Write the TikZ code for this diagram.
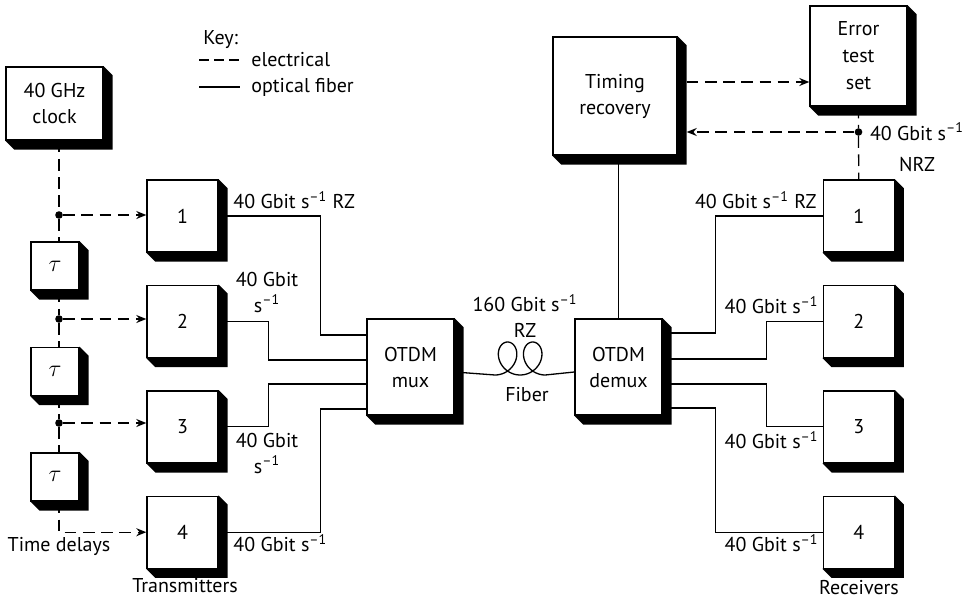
\documentclass[tikz,border=0pt]{standalone}
\usepackage{fontspec}
\setmainfont{PT Sans}
\usetikzlibrary{positioning,arrows.meta,calc,backgrounds}

\newcommand{\pers}{s\textsuperscript{--1}}

\begin{document}
\begin{tikzpicture}[
  x=0.5pt, y=-0.5pt,
  font=\fontsize{10}{13}\selectfont,
  blk/.style={draw, fill=white, line width=0.7pt, inner sep=0pt, align=center},
  txbox/.style={blk, minimum width=35.5pt, minimum height=36pt},
  taubox/.style={blk, minimum width=24pt, minimum height=24pt, font=\fontsize{13}{13}\selectfont},
  bigbox/.style={blk, minimum width=43.5pt, minimum height=48pt},
  elec/.style={line width=0.65pt, dash pattern=on 5.8pt off 3.3pt},
  fib/.style={line width=0.65pt},
  tip/.style={-{Stealth[length=5pt,width=4pt]}},
  dot/.style={circle, fill, inner sep=0pt, minimum size=3.8pt},
  lbl/.style={inner sep=0pt, align=center}
]
\useasboundingbox (0,0) rectangle (968,599);

% sources and delays
\node[blk, minimum width=48.5pt, minimum height=36.5pt] (clock) at (54.5,103.5) {40 GHz\\clock};
\node[taubox] (tau1) at (55,266) {$\tau$};
\node[taubox, below=28pt of tau1] (tau2) {$\tau$};
\node[taubox, below=28pt of tau2] (tau3) {$\tau$};

\node[txbox] (tx1) at (182.5,216) {1};
\node[txbox, below=16pt of tx1] (tx2) {2};
\node[txbox, below=16pt of tx2] (tx3) {3};
\node[txbox, below=16pt of tx3] (tx4) {4};

\node[bigbox] (mux) at (410.5,367) {OTDM\\mux};
\node[bigbox] (demux) at (618.5,367) {OTDM\\demux};
\node[blk, minimum width=62pt, minimum height=59pt] (timing) at (615,96) {Timing\\recovery};
\node[blk, minimum width=48.5pt, minimum height=50pt] (error) at (858.5,56) {Error\\[0.5pt]test\\[0.5pt]set};

\node[txbox] (rx1) at (858.75,216) {1};
\node[txbox, below=16pt of rx1] (rx2) {2};
\node[txbox, below=16pt of rx2] (rx3) {3};
\node[txbox, below=16pt of rx3] (rx4) {4};

% 3-d edges of the boxes
\begin{scope}[on background layer]
\foreach \b in {clock,tau1,tau2,tau3,tx1,tx2,tx3,tx4,mux,demux,timing,error,rx1,rx2,rx3,rx4}
  \fill (\b.north east) -- ++(4.5pt,-4.5pt) |- ($(\b.south west)+(4.5pt,-4.5pt)$) -- (\b.south west) -- cycle;
\end{scope}

% clock distribution
\node[dot] (d1) at (59,215) {};
\node[dot] (d2) at (59,319) {};
\node[dot] (d3) at (59,423) {};
\draw[elec] (clock.south -| d1) -- (d1) -- (tau1.north -| d1);
\draw[elec] (tau1.south -| d1) -- (d2) -- (tau2.north -| d2);
\draw[elec] (tau2.south -| d2) -- (d3) -- (tau3.north -| d3);
\draw[elec,tip] (tau3.south -| d3) |- (tx4.west);
\foreach \i in {1,2,3}
  \draw[elec,tip] (d\i) -- (d\i -| tx\i.west);

% transmitters to mux
\draw[fib] (tx1.east) -- ++(102,0) |- ($(mux.west)+(0,16pt)$);
\draw[fib] (tx2.east) -- ++(50,0) |- ($(mux.west)+(0,3.5pt)$);
\draw[fib] (tx3.east) -- ++(50,0) |- ($(mux.west)+(0,-8.5pt)$);
\draw[fib] (tx4.east) -- ++(102,0) |- ($(mux.west)+(0,-21pt)$);

% fiber with coil
\coordinate (coil) at (495,375);
\draw[fib] ($(mux.east)+(0,-2.5pt)$) -- (coil)
  -- plot[domain=0:12.566, samples=100, variable=\t] ({495+4*\t+15*sin(\t r)}, {358.5+16.5*cos(\t r)})
  -- ($(demux.west)+(0,-2.5pt)$);

% demux to receivers
\draw[fib] ($(demux.east)+(0,17pt)$) -- ++(53,0) |- (rx1.west);
\draw[fib] ($(demux.east)+(0,4pt)$) -- ++(104,0) |- (rx2.west);
\draw[fib] ($(demux.east)+(0,-8.5pt)$) -- ++(104,0) |- (rx3.west);
\draw[fib] ($(demux.east)+(0,-20.5pt)$) -- ++(53,0) |- (rx4.west);
\draw[fib] (demux.north) -- (demux.north |- timing.south);

% clock recovery and error test
\node[dot] (tap) at (858.5,132) {};
\draw[elec,tip] ($(timing.east)+(4.5pt,7pt)$) -- ($(error.west)+(0,-13pt)$);
\draw[elec] (error.south) -- (tap) -- (rx1.north);
\draw[elec,tip] (tap) -- ($(tap -| timing.east)+(4.5pt,0)$);

% labels
\node[lbl, anchor=west] (rt1) at (233,200) {40 Gbit \pers{} RZ};
\node[lbl] (rt2) at (267,292) {40 Gbit\\\pers};
\node[lbl] (rt3) at (267,453) {40 Gbit\\\pers};
\node[lbl, anchor=west] (rt4) at (233,543) {40 Gbit \pers};
\node[lbl, anchor=east] (rr1) at (817,200) {40 Gbit \pers{} RZ};
\node[lbl, anchor=east] (rr2) at (819,305) {40 Gbit \pers};
\node[lbl, anchor=east] (rr3) at (819,440) {40 Gbit \pers};
\node[lbl, anchor=east] (rr4) at (819,543) {40 Gbit \pers};
\node[lbl] (nrz) at (917,147) {40 Gbit \pers\\[2.5pt]NRZ};
\node[lbl] (rate) at (525,316) {160 Gbit \pers\\RZ};
\node[lbl] (fibtxt) at (527,395) {Fiber};
\node[lbl] (delays) at (59,546) {Time delays};
\node[lbl] (txs) at (185,586) {Transmitters};
\node[lbl] (rxs) at (859,588) {Receivers};

% key
\node[lbl, anchor=west] (key) at (203,40) {Key:};
\node[lbl, anchor=west] (kelec) at (251,60) {electrical};
\node[lbl, anchor=west] (kfib) at (251,87) {optical fiber};
\draw[fib, dash pattern=on 5pt off 2.6pt] ($(kelec.west)+(-26pt,0)$) -- ($(kelec.west)+(-5.5pt,0)$);
\draw[fib] ($(kfib.west)+(-26pt,0)$) -- ($(kfib.west)+(-5.5pt,0)$);
\end{tikzpicture}
\end{document}
